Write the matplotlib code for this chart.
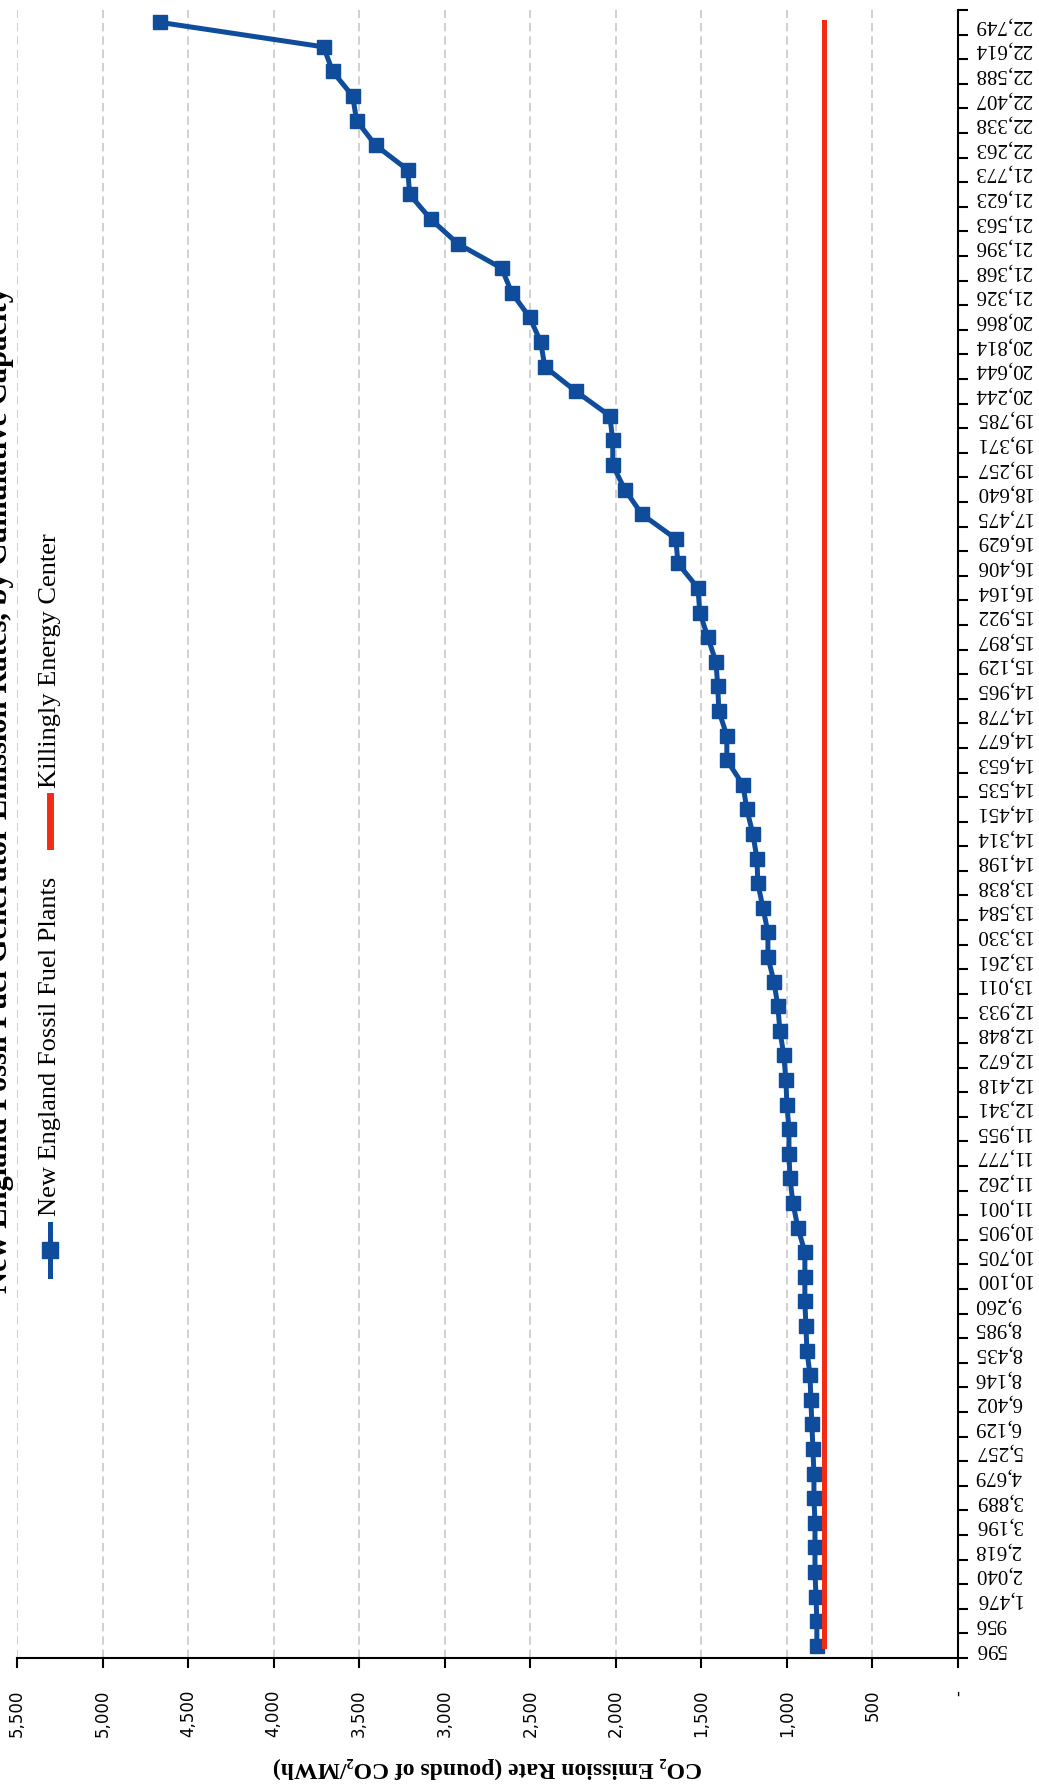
import numpy as np
import matplotlib
matplotlib.use('Agg')
import matplotlib.pyplot as plt
from matplotlib.lines import Line2D

# ------------------
# data
# ------------------
# cumulative capacity (MW), one label per plant, lowest rate first
capacity_labels = ['596', '956', '1,476', '2,040', '2,618', '3,196', '3,889', '4,679',
                   '5,257', '6,129', '6,402', '8,146', '8,435', '8,985', '9,260', '10,100',
                   '10,705', '10,905', '11,001', '11,262', '11,777', '11,955', '12,341',
                   '12,418', '12,672', '12,848', '12,933', '13,011', '13,261', '13,330',
                   '13,584', '13,838', '14,198', '14,314', '14,451', '14,535', '14,653',
                   '14,677', '14,778', '14,965', '15,129', '15,897', '15,922', '16,164',
                   '16,406', '16,629', '17,475', '18,640', '19,257', '19,371', '19,785',
                   '20,244', '20,644', '20,814', '20,866', '21,326', '21,368', '21,396',
                   '21,563', '21,623', '21,773', '22,263', '22,338', '22,407', '22,588',
                   '22,614', '22,749']

# CO2 emission rate (lb CO2/MWh)
fossil_rates = [825, 825, 830, 836, 836, 836, 842, 842, 848, 854, 860, 865, 883, 889,
                895, 895, 895, 936, 965, 982, 988, 988, 1000, 1006, 1018, 1041, 1053,
                1076, 1111, 1111, 1140, 1170, 1175, 1199, 1234, 1257, 1351, 1351, 1398,
                1404, 1415, 1462, 1509, 1520, 1637, 1649, 1848, 1947, 2018, 2018, 2035,
                2234, 2415, 2439, 2503, 2608, 2667, 2924, 3082, 3205, 3216, 3404, 3515,
                3538, 3655, 3708, 4667]

killingly_rate = 785

value_ticks = list(range(0, 5501, 500))
value_tick_labels = ['-' if v == 0 else f'{v:,}' for v in value_ticks]

title_text = 'New England Fossil Fuel Generator Emission Rates, by Cumulative Capacity'
legend_labels = ['New England Fossil Fuel Plants', 'Killingly Energy Center']

blue = '#0F4C9C'
red = '#F22C14'

# ------------------
# figure (scanned page is turned on its side)
# ------------------
W, H = 1039, 1786
plt.rcParams['font.family'] = ['Liberation Serif', 'DejaVu Serif']

fig = plt.figure(figsize=(W / 100, H / 100), dpi=100)

# helpers: pixel position (from top left) -> figure fraction
def fx(px):
    return px / W

def fy(py):
    return 1 - py / H

ax = fig.add_axes([fx(17), fy(1658), fx(958) - fx(17), fy(10) - fy(1658)])

cat_pos = np.arange(len(capacity_labels))
ax.plot(fossil_rates, cat_pos, color=blue, lw=3.6, marker='s', ms=10,
        markeredgecolor=blue, zorder=3)
ax.plot([killingly_rate] * len(cat_pos), cat_pos, color=red, lw=3.6, zorder=4)

ax.set_xlim(5500, 0)
ax.set_ylim(-0.5, len(capacity_labels) - 0.5)

# value axis (bottom)
ax.set_xticks(value_ticks)
ax.set_xticklabels(value_tick_labels)
ax.tick_params(axis='x', length=7, width=1.5, direction='out', pad=16,
               labelsize=12, labelrotation=90, labelfontfamily='DejaVu Sans')
ax.grid(axis='x', color='#c8c8c8', linestyle=(0, (5, 3)), lw=1.2)
ax.set_axisbelow(True)

ax.set_xlabel('CO\u2082 Emission Rate (pounds of CO\u2082/MWh)', rotation=180,
              fontsize=17, fontweight='bold', va='center')
ax.xaxis.set_label_coords(0.5, -110 / 1648)

# category axis (right)
ax.yaxis.tick_right()
ax.set_yticks(cat_pos)
ax.set_yticklabels(capacity_labels, rotation=180, fontsize=15)
ax.set_yticks(np.arange(-0.5, len(capacity_labels), 1), minor=True)
ax.tick_params(axis='y', which='major', length=0, pad=12)
ax.tick_params(axis='y', which='minor', length=7, width=1.5, direction='out',
               right=True, left=False)

for side in ['top', 'left']:
    ax.spines[side].set_visible(False)
for side in ['right', 'bottom']:
    ax.spines[side].set_linewidth(1.5)
    ax.spines[side].set_color('black')

# title, cut by the page edge
fig.text(fx(7), fy(790), title_text, rotation=90, rotation_mode='anchor',
         ha='center', va='baseline', fontsize=22, fontweight='bold')

# legend, drawn by hand because the entries run vertically
lx = fx(50)
fig.add_artist(Line2D([lx, lx], [fy(1224), fy(1276)], transform=fig.transFigure,
                      color=blue, lw=3.6))
fig.add_artist(Line2D([lx], [fy(1250)], transform=fig.transFigure,
                      color=blue, marker='s', ms=11, lw=0))
fig.text(lx, fy(1216), legend_labels[0], rotation=90, rotation_mode='anchor',
         ha='left', va='center', fontsize=19)
fig.add_artist(Line2D([lx, lx], [fy(796), fy(846)], transform=fig.transFigure,
                      color=red, lw=5))
fig.text(lx, fy(788), legend_labels[1], rotation=90, rotation_mode='anchor',
         ha='left', va='center', fontsize=19)

fig.savefig('out.png', dpi=100)
